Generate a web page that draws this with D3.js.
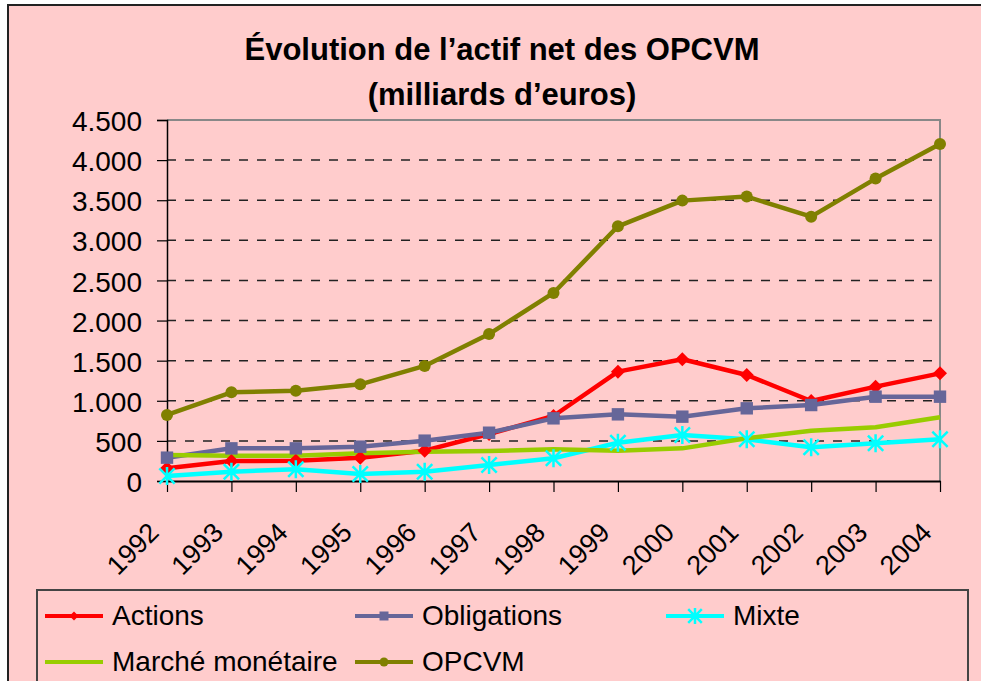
<!DOCTYPE html>
<html>
<head>
<meta charset="utf-8">
<script src="https://cdn.jsdelivr.net/npm/d3@7"></script>
<style>
  body { margin: 0; background: #fff; }
  svg text { font-family: "Liberation Sans", Arial, sans-serif; fill: #000; }
</style>
</head>
<body>
<div id="chart"></div>
<script>
// Données (milliards d'euros)
const years = ["1992", "1993", "1994", "1995", "1996", "1997", "1998", "1999", "2000", "2001", "2002", "2003", "2004"];
const actions     = [158, 249, 253, 291, 378, 586, 810, 1363, 1517, 1321, 997, 1176, 1342];
const obligations = [291, 407, 407, 428, 503, 602, 781, 831, 802, 906, 947, 1051, 1051];
const mixte       = [62, 116, 146, 87, 116, 199, 283, 477, 573, 520, 420, 470, 520];
const marche      = [324, 316, 316, 345, 366, 374, 397, 378, 407, 532, 627, 669, 794];
const opcvm       = [823, 1106, 1126, 1205, 1434, 1832, 2344, 3175, 3495, 3545, 3295, 3770, 4200];
const yTicks = [0, 500, 1000, 1500, 2000, 2500, 3000, 3500, 4000, 4500];

const series = [
  { name: "Actions", values: actions, color: "#FF0000", marker: "diamond" },
  { name: "Obligations", values: obligations, color: "#666699", marker: "square" },
  { name: "Mixte", values: mixte, color: "#00FFFF", marker: "star" },
  { name: "Marché monétaire", values: marche, color: "#99CC00", marker: "none" },
  { name: "OPCVM", values: opcvm, color: "#808000", marker: "circle" }
];

const W = 981, H = 681;
const plot = { left: 167, right: 940, top: 120, bottom: 481 };

const fr = d3.formatLocale({ decimal: ",", thousands: ".", grouping: [3], currency: ["", " €"] });

const svg = d3.select("#chart")
  .append("svg")
  .attr("width", W)
  .attr("height", H);

// Zone du graphique
svg.append("rect")
  .attr("x", 8).attr("y", 5)
  .attr("width", 1000).attr("height", 700)
  .attr("fill", "#FFCCCC")
  .attr("stroke", "#222")
  .attr("stroke-width", 2);

// Titre
svg.append("text")
  .attr("x", 502).attr("y", 60)
  .attr("text-anchor", "middle")
  .style("font-size", "31px").style("font-weight", "bold")
  .text("Évolution de l’actif net des OPCVM");
svg.append("text")
  .attr("x", 502).attr("y", 105)
  .attr("text-anchor", "middle")
  .style("font-size", "31px").style("font-weight", "bold")
  .text("(milliards d’euros)");

const x = d3.scalePoint().domain(years).range([plot.left, plot.right]);
const y = d3.scaleLinear().domain([0, 4500]).range([plot.bottom, plot.top]);

// Quadrillage en pointillés
svg.append("g")
  .selectAll("line")
  .data(yTicks.filter(d => d > 0 && d < 4500))
  .enter()
  .append("line")
  .attr("x1", plot.left).attr("x2", plot.right)
  .attr("y1", d => y(d)).attr("y2", d => y(d))
  .attr("stroke", "#222")
  .attr("stroke-width", 1.5)
  .attr("stroke-dasharray", "9,9");

// Bordure de la zone de traçage
svg.append("path")
  .attr("d", `M${plot.left},${plot.top}H${plot.right}V${plot.bottom}`)
  .attr("fill", "none")
  .attr("stroke", "#888")
  .attr("stroke-width", 2);

// Axe Y
const yAxis = svg.append("g")
  .attr("transform", `translate(${plot.left},0)`)
  .call(d3.axisLeft(y).tickValues(yTicks).tickSize(10).tickPadding(15).tickFormat(fr.format(",")));
yAxis.select(".domain").attr("stroke", "#000").attr("stroke-width", 1.5);
yAxis.selectAll(".tick line").attr("stroke", "#000").attr("stroke-width", 1.2);
yAxis.selectAll("text")
  .style("font-size", "28px")
  .attr("dy", "0.38em");

// Axe X
const xAxis = svg.append("g")
  .attr("transform", `translate(0,${plot.bottom})`)
  .call(d3.axisBottom(x).tickSize(11).tickSizeOuter(0));
xAxis.select(".domain").attr("stroke", "#000").attr("stroke-width", 2);
xAxis.selectAll(".tick line").attr("stroke", "#000").attr("stroke-width", 1.2);
xAxis.selectAll("text")
  .style("font-size", "27px")
  .attr("text-anchor", "end")
  .attr("x", -7).attr("y", 53).attr("dy", 0)
  .attr("transform", "rotate(-45,-7,53)");

// Lignes
const line = d3.line()
  .x((d, i) => x(years[i]))
  .y(d => y(d));

svg.append("g")
  .selectAll("path")
  .data(series)
  .enter()
  .append("path")
  .attr("d", d => line(d.values))
  .attr("fill", "none")
  .attr("stroke", d => d.color)
  .attr("stroke-width", 4.5)
  .attr("stroke-linejoin", "round");

// Marqueurs
function drawMarker(g, type, color, s) {
  if (type === "diamond") {
    g.append("path").attr("d", `M0,${-s}L${s},0L0,${s}L${-s},0Z`).attr("fill", color);
  } else if (type === "square") {
    g.append("rect").attr("x", -s).attr("y", -s).attr("width", 2 * s).attr("height", 2 * s).attr("fill", color);
  } else if (type === "circle") {
    g.append("circle").attr("r", s).attr("fill", color);
  } else if (type === "star") {
    const r = s;
    g.append("path")
      .attr("d", `M0,${-r}V${r}M${-r * 0.85},${-r * 0.85}L${r * 0.85},${r * 0.85}M${-r * 0.85},${r * 0.85}L${r * 0.85},${-r * 0.85}`)
      .attr("stroke", color).attr("stroke-width", 2.5).attr("fill", "none");
  }
}

const markerSize = { diamond: 7, square: 6.2, circle: 6, star: 9 };

series.filter(s => s.marker !== "none").forEach(s => {
  s.values.forEach((v, i) => {
    const g = svg.append("g").attr("transform", `translate(${x(years[i])},${y(v)})`);
    drawMarker(g, s.marker, s.color, markerSize[s.marker]);
  });
});

// Légende
svg.append("rect")
  .attr("x", 37).attr("y", 590)
  .attr("width", 931).attr("height", 200)
  .attr("fill", "none")
  .attr("stroke", "#444")
  .attr("stroke-width", 2);

const legendCols = [45, 355, 666];
const legendRows = [616, 662];

series.forEach((s, i) => {
  const lx = legendCols[i % 3], ly = legendRows[Math.floor(i / 3)];
  const g = svg.append("g").attr("transform", `translate(${lx},${ly})`);
  g.append("line").attr("x1", 0).attr("x2", 58).attr("y1", 0).attr("y2", 0)
    .attr("stroke", s.color).attr("stroke-width", 4);
  const m = g.append("g").attr("transform", "translate(29,0)");
  drawMarker(m, s.marker, s.color, s.marker === "star" ? 8 : 4.5);
  g.append("text")
    .attr("x", 67).attr("y", 9)
    .style("font-size", "28px")
    .text(s.name);
});
</script>
</body>
</html>
